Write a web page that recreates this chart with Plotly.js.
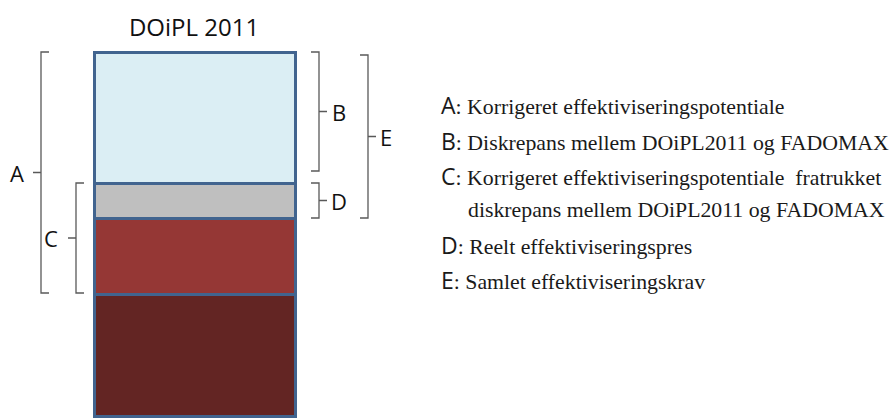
<!DOCTYPE html>
<html><head><meta charset="utf-8">
<script src="https://cdn.plot.ly/plotly-3.0.1.min.js"></script>
<style>html,body{margin:0;padding:0;background:#fff;}#chart{width:894px;height:419px;}</style>
</head><body><div id="chart"></div>
<script>
// Data (stacked segments, bottom to top)
const category = ["DOiPL 2011"];
const segmentNames = ["Basis", "C-del", "D: Reelt effektiviseringspres", "B: Diskrepans"];
const segmentValues = [122, 76, 35, 131];
const segmentColors = ["#632523", "#953735", "#bfbfbf", "#dbeef4"];

const legendLetters = ["A", "B", "C", "", "D", "E"];
const legendTexts = [
  "Korrigeret effektiviseringspotentiale",
  "Diskrepans mellem DOiPL2011 og FADOMAX",
  "Korrigeret effektiviseringspotentiale  fratrukket",
  "diskrepans mellem DOiPL2011 og FADOMAX",
  "Reelt effektiviseringspres",
  "Samlet effektiviseringskrav"
];

// cumulative boundaries
const cum = [0];
segmentValues.forEach(v => cum.push(cum[cum.length-1] + v));

const W = 894, H = 419;
const px = p => p / W;
const py = p => 1 - p / H;

const traces = segmentValues.map((v, i) => ({
  type: "bar", x: [0], y: [v], width: [1], name: segmentNames[i],
  marker: {color: segmentColors[i], line: {color: "#41648f", width: 3}},
  hoverinfo: "skip", showlegend: false
}));

const brackets = [
  {label: "A", lo: cum[1], hi: cum[4], side: "L", xl: 41, pb: 1, pt: 0, lx: 17},
  {label: "C", lo: cum[1], hi: cum[3], side: "L", xl: 76, pb: 1, pt: 0, lx: 51},
  {label: "B", lo: cum[3], hi: cum[4], side: "R", xl: 319, pb: 12, pt: 0, lx: 339},
  {label: "D", lo: cum[2], hi: cum[3], side: "R", xl: 319, pb: 0, pt: 0, lx: 339},
  {label: "E", lo: cum[2], hi: cum[4], side: "R", xl: 368, pb: 0, pt: 3, lx: 386}
];

const shapes = [];
const annotations = [];
brackets.forEach(b => {
  const dir = b.side === "L" ? 1 : -1;
  const lo = b.lo + b.pb, hi = b.hi - b.pt, mid = (lo + hi) / 2;
  const x = px(b.xl), xs = px(b.xl + dir * 8), xt = px(b.xl - dir * 8);
  shapes.push({
    type: "path", xref: "paper", yref: "y",
    path: `M ${xs},${hi} L ${x},${hi} L ${x},${lo} L ${xs},${lo} M ${x},${mid} L ${xt},${mid}`,
    line: {color: "#595959", width: 1.3}
  });
  annotations.push({
    xref: "paper", yref: "y", x: px(b.lx), y: mid, text: b.label, showarrow: false,
    xanchor: "center", yanchor: "middle",
    font: {family: "Open Sans", size: 22, color: "#111"}
  });
});

const legendY = [105, 141, 176, 210, 245, 280];
legendTexts.forEach((t, i) => {
  const letter = legendLetters[i];
  const txt = letter
    ? `<span style="font-family:'Open Sans';font-size:23px">${letter}</span>: ${t}`
    : t;
  annotations.push({
    xref: "paper", yref: "paper", x: px(letter ? 439 : 466), y: py(legendY[i]),
    text: txt, showarrow: false, xanchor: "left", yanchor: "middle",
    font: {family: "Liberation Serif", size: 21.8, color: "#1a1a1a"}
  });
});

const x0 = -195 / 201;
const layout = {
  width: W, height: H,
  margin: {l: 0, r: 0, t: 0, b: 0},
  paper_bgcolor: "#fff", plot_bgcolor: "#fff",
  barmode: "stack",
  title: {text: category[0], x: px(194), xanchor: "center", y: py(28), yanchor: "middle",
          yref: "container", xref: "paper",
          font: {family: "Open Sans", size: 24, color: "#111"}},
  xaxis: {range: [x0, x0 + W / 201], visible: false, fixedrange: true},
  yaxis: {range: [-3, 416], visible: false, fixedrange: true},
  shapes: shapes, annotations: annotations, showlegend: false
};

Plotly.newPlot("chart", traces, layout, {staticPlot: true});
</script>
</body></html>
